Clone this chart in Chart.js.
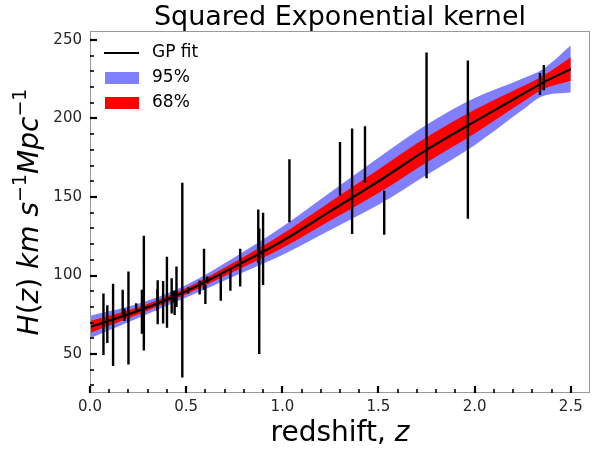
<!DOCTYPE html>
<html><head><meta charset="utf-8">
<script src="https://cdn.jsdelivr.net/npm/chart.js@4.4.1/dist/chart.umd.min.js"></script>
<style>html,body{margin:0;padding:0;background:#fff}</style>
</head><body>
<canvas id="c" width="596" height="450" style="width:596px;height:450px;display:block"></canvas>
<script>
// ---- GP reconstruction ----
const zGrid  = [0, 0.25, 0.5, 0.75, 1.0, 1.25, 1.5, 1.75, 2.0, 2.25, 2.35, 2.5];
const gpMean = [67.2, 77.5, 90, 105.5, 122, 141, 160, 180, 198, 215.5, 222.5, 231.5];
const sig68  = [3.8, 2.3, 2.0, 3.0, 4.5, 6.0, 7.5, 8.0, 7.5, 5.0, 4.2, 7.5];
const sig95  = [7.2, 4.5, 4.0, 6.0, 9.0, 12, 15, 16, 15, 10, 8.5, 15];

// ---- H(z) observations ----
const zObs   = [0.07, 0.09, 0.12, 0.17, 0.179, 0.199, 0.2, 0.24, 0.27, 0.28, 0.35, 0.352, 0.38, 0.3802, 0.4, 0.4004, 0.4247, 0.43, 0.44, 0.4497, 0.4783, 0.48, 0.51, 0.57, 0.593, 0.6, 0.61, 0.68, 0.73, 0.781, 0.875, 0.88, 0.9, 1.037, 1.3, 1.363, 1.43, 1.53, 1.75, 1.965, 2.34, 2.36];
const hObs   = [69, 69, 68.6, 83, 75, 75, 72.9, 79.69, 77, 88.8, 84.4, 83, 81.5, 83, 95, 77, 87.1, 86.45, 82.6, 92.8, 80.9, 97, 90.4, 92.4, 104, 87.9, 97.3, 92, 97.3, 105, 125, 90, 117, 154, 168, 160, 177, 140, 202, 186.5, 222, 226];
const errObs = [19.6, 12, 26.2, 8, 4, 5, 29.6, 2.65, 14, 36.6, 7, 14, 1.9, 13.5, 17, 10.2, 11.2, 3.68, 7.8, 12.9, 9, 62, 1.9, 4.5, 13, 6.1, 2.1, 8, 7, 12, 17, 40, 23, 20, 17, 33.6, 18, 14, 40, 50.4, 7, 8];

// ---- axes ----
const xTicks = [0, 0.5, 1.0, 1.5, 2.0, 2.5];
const yTicks = [50, 100, 150, 200, 250];
const xRange = [0, 2.6];
const yRange = [25.2, 255.7];

const FONT = "'DejaVu Sans', sans-serif";
const BLUE = 'rgba(0,0,255,0.5)';
const RED = '#ff0000';

const pts = (arr) => zGrid.map((z, i) => ({x: z, y: arr[i]}));
const bandLo = (s) => zGrid.map((z, i) => ({x: z, y: gpMean[i] - s[i]}));
const bandHi = (s) => zGrid.map((z, i) => ({x: z, y: gpMean[i] + s[i]}));
const errPts = [];
zObs.forEach((z, i) => {
  errPts.push({x: z, y: hObs[i] - errObs[i]}, {x: z, y: hObs[i] + errObs[i]}, {x: z, y: null});
});

const common = {pointRadius: 0, borderWidth: 0, cubicInterpolationMode: 'monotone'};

const decor = {
  id: 'decor',
  afterDraw(chart) {
    const ctx = chart.ctx, a = chart.chartArea;
    const xs = chart.scales.x, ys = chart.scales.y;
    ctx.save();
    // frame
    ctx.strokeStyle = '#9a9a9a'; ctx.lineWidth = 1;
    ctx.strokeRect(a.left + 0.5, a.top + 0.5, a.right - a.left - 1, a.bottom - a.top - 1);
    // ticks (inward)
    ctx.strokeStyle = '#000';
    const tickX = (v, len, w) => { const p = Math.round(xs.getPixelForValue(v)); ctx.lineWidth = w; ctx.beginPath(); ctx.moveTo(p, a.bottom); ctx.lineTo(p, a.bottom - len); ctx.stroke(); };
    const tickY = (v, len, w) => { const p = Math.round(ys.getPixelForValue(v)); ctx.lineWidth = w; ctx.beginPath(); ctx.moveTo(a.left, p); ctx.lineTo(a.left + len, p); ctx.stroke(); };
    for (let k = 0; k <= 25; k++) { const v = k / 10; if (k % 5 === 0) tickX(v, 7, 2.2); else tickX(v, 4, 1.6); }
    for (let v = 30; v <= 250; v += 10) { if (v % 50 === 0) tickY(v, 7, 2.2); else tickY(v, 4, 1.6); }
    // title
    ctx.fillStyle = '#000';
    ctx.font = `27px ${FONT}`;
    ctx.textAlign = 'center'; ctx.textBaseline = 'alphabetic';
    ctx.fillText('Squared Exponential kernel', (a.left + a.right) / 2, 25);
    // x label
    const xl = [{t: 'redshift, ', f: `28px ${FONT}`}, {t: 'z', f: `italic 28px ${FONT}`}];
    let w = 0; xl.forEach(s => { ctx.font = s.f; s.w = ctx.measureText(s.t).width; w += s.w; });
    let x0 = (a.left + a.right) / 2 - w / 2;
    ctx.textAlign = 'left';
    xl.forEach(s => { ctx.font = s.f; ctx.fillText(s.t, x0, 441); x0 += s.w; });
    // y label
    const yl = [
      {t: 'H', f: `italic 28px ${FONT}`}, {t: '(', f: `28px ${FONT}`}, {t: 'z', f: `italic 28px ${FONT}`}, {t: ') ', f: `28px ${FONT}`},
      {t: 'km s', f: `italic 28px ${FONT}`}, {t: '\u22121', f: `19px ${FONT}`, sup: true},
      {t: 'Mpc', f: `italic 28px ${FONT}`}, {t: '\u22121', f: `19px ${FONT}`, sup: true}
    ];
    w = 0; yl.forEach(s => { ctx.font = s.f; s.w = ctx.measureText(s.t).width; w += s.w; });
    ctx.translate(38, (a.top + a.bottom) / 2);
    ctx.rotate(-Math.PI / 2);
    x0 = -w / 2;
    yl.forEach(s => { ctx.font = s.f; ctx.fillText(s.t, x0, s.sup ? -12 : 0); x0 += s.w; });
    ctx.restore();
    // legend
    ctx.save();
    const items = chart.data.datasets.filter(d => d.legend);
    items.forEach((d, i) => {
      const yc = 53 + i * 25;
      if (d.legend === 'line') {
        ctx.strokeStyle = '#000'; ctx.lineWidth = 2;
        ctx.beginPath(); ctx.moveTo(104, yc); ctx.lineTo(139, yc); ctx.stroke();
      } else {
        ctx.fillStyle = d.backgroundColor;
        ctx.fillRect(105, yc - 6, 34, 12);
      }
      ctx.fillStyle = '#000'; ctx.font = `17px ${FONT}`;
      ctx.textAlign = 'left'; ctx.textBaseline = 'middle';
      ctx.fillText(d.label, 152, yc);
    });
    ctx.restore();
  }
};

new Chart(document.getElementById('c'), {
  type: 'line',
  data: {
    datasets: [
      {label: 'GP fit', legend: 'line', data: pts(gpMean), borderColor: '#000', borderWidth: 2.2, pointRadius: 0, cubicInterpolationMode: 'monotone', order: 2, fill: false},
      {label: 'lo95', data: bandLo(sig95), ...common, fill: false, order: 4},
      {label: '95%', legend: 'box', data: bandHi(sig95), ...common, fill: '-1', backgroundColor: BLUE, order: 4},
      {label: 'lo68', data: bandLo(sig68), ...common, fill: false, order: 3},
      {label: '68%', legend: 'box', data: bandHi(sig68), ...common, fill: '-1', backgroundColor: RED, order: 3},
      {label: 'data', data: errPts, borderColor: '#000', borderWidth: 2.4, pointRadius: 0, spanGaps: false, tension: 0, order: 1, fill: false}
    ]
  },
  options: {
    responsive: false, animation: false, devicePixelRatio: 1,
    layout: {padding: {top: 31, right: 6, left: 0, bottom: 0}},
    plugins: {legend: {display: false}, tooltip: {enabled: false}, title: {display: false}},
    scales: {
      x: {
        type: 'linear', min: xRange[0], max: xRange[1],
        afterBuildTicks: s => { s.ticks = xTicks.map(v => ({value: v})); },
        ticks: {callback: v => v.toFixed(1), font: {family: FONT, size: 15}, color: '#262626', padding: 5, maxRotation: 0, autoSkip: false},
        grid: {display: false, drawTicks: false}, border: {display: false},
        afterFit: s => { s.height = 57; }
      },
      y: {
        type: 'linear', min: yRange[0], max: yRange[1],
        afterBuildTicks: s => { s.ticks = yTicks.map(v => ({value: v})); },
        ticks: {callback: v => String(v), font: {family: FONT, size: 15}, color: '#262626', padding: 8, autoSkip: false},
        grid: {display: false, drawTicks: false}, border: {display: false},
        afterFit: s => { s.width = 90; }
      }
    }
  },
  plugins: [decor]
});
</script>
</body></html>
